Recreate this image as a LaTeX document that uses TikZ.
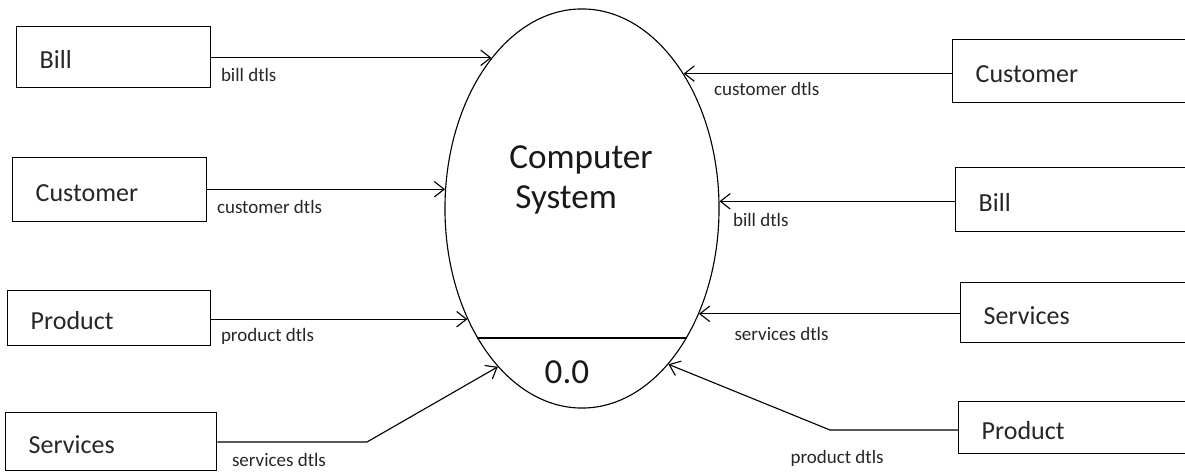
\documentclass[tikz,border=0pt]{standalone}
\usepackage{fontspec}
\setmainfont{Carlito}
\usetikzlibrary{shapes,arrows.meta,positioning}

\begin{document}
\begin{tikzpicture}[x=0.025cm, y=-0.025cm,
    ent/.style={draw, rectangle, anchor=north west, line width=1pt, align=left, inner xsep=0.575cm, inner ysep=0pt, text height=0.57cm, text depth=0pt, font=\fontsize{18.5}{20}\selectfont, text=black!85},
    proc/.style={draw, ellipse, line width=0.8pt, inner sep=0pt, minimum width=6.85cm, minimum height=9.975cm},
    arr/.style={-{Straight Barb[length=7pt, width=11pt]}, line width=0.8pt},
    lbl/.style={font=\fontsize{13.5}{15}\selectfont, text=black!85, inner sep=0pt, anchor=base west},
    lft/.style={lbl, xshift=0.225cm, yshift=-0.6cm}
  ]
  \useasboundingbox (0,0) rectangle (1185,473);

  % the process bubble
  \node[proc] (sys) at (582,208.5) {};
  \node[anchor=west, align=left, inner sep=0pt, font=\fontsize{25}{28.5}\selectfont, text=black!90] (title) at (509,180) {Computer\\\hspace*{0.15cm}System};
  \draw[line width=0.8pt] (sys.231) -- (sys.309);
  \node[inner sep=0pt, font=\fontsize{25}{28}\selectfont, text=black!90] (num) at (567,372) {0.0};

  % entities on the left
  \node[ent, text width=3.7cm, minimum height=1.525cm] (bill1) at (16,26) {Bill};
  \node[ent, text width=3.7cm, minimum height=1.6cm] (cust1) at (12,157) {Customer};
  \node[ent, text width=3.925cm, minimum height=1.375cm] (prod1) at (7,290) {Product};
  \node[ent, text width=4.125cm, minimum height=1.45cm] (serv1) at (5,412) {Services};

  % entities on the right
  \node[ent, text width=5.05cm, minimum height=1.575cm] (cust2) at (952,39) {Customer};
  \node[ent, text width=4.975cm, minimum height=1.6cm] (bill2) at (955,167) {Bill};
  \node[ent, text width=4.85cm, minimum height=1.5cm] (serv2) at (960,282) {Services};
  \node[ent, text width=4.9cm, minimum height=1.3cm] (prod2) at (958,401) {Product};

  \coordinate (sbend) at (367,442);
  \coordinate (pbend) at (830,430);

  % data flows
  \draw[arr] (sys.121 -| bill1.east) -- node[lft, pos=0] {bill dtls} (sys.121);
  \draw[arr] (sys.172 -| cust1.east) -- node[lft, pos=0] {customer dtls} (sys.172);
  \draw[arr] (sys.224 -| prod1.east) -- node[lft, pos=0, yshift=0.05cm] {product dtls} (sys.224);
  \draw[arr] (sbend -| serv1.east) -- node[lft, pos=0, xshift=0.125cm] {services dtls} (sbend) -- (sys.242);

  \draw[arr] (sys.53 -| cust2.west) -- node[lbl, pos=1, xshift=0.75cm, yshift=-0.55cm] {customer dtls} (sys.53);
  \draw[arr] (sys.3 -| bill2.west) -- node[lbl, pos=1, xshift=0.325cm, yshift=-0.625cm] {bill dtls} (sys.3);
  \draw[arr] (sys.318 -| serv2.west) -- node[lbl, pos=1, xshift=0.875cm, yshift=-0.675cm] {services dtls} (sys.318);
  \draw[arr] (pbend -| prod2.west) -- (pbend) node[lbl, xshift=-1cm, yshift=-0.825cm] {product dtls} -- (sys.299);
\end{tikzpicture}
\end{document}
